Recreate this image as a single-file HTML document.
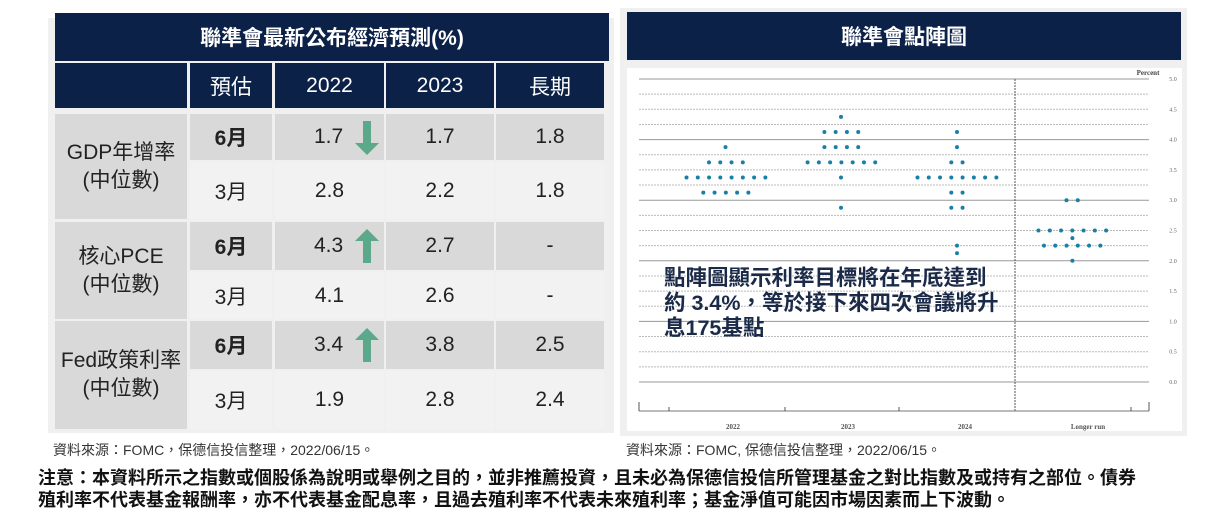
<!DOCTYPE html>
<html><head><meta charset="utf-8"><style>
body{margin:0;width:1227px;height:523px;background:#fff;position:relative;overflow:hidden;font-family:"Liberation Sans","Noto Sans CJK TC",sans-serif;}
.abs{position:absolute;}
.c{position:absolute;display:flex;align-items:center;justify-content:center;color:#222;font-size:21px;}
.nav{background:#0b2147;color:#fff;}
.d{background:#d9d9d9;}
.l{background:#f2f2f2;}
.arr{position:absolute;}
</style></head><body>
<div class="abs" style="left:48px;top:18px;width:566px;height:415px;background:#f0f0f0"></div>
<div class="c nav" style="left:55px;top:13px;width:554px;height:48px;font-size:21px;font-weight:bold">聯準會最新公布經濟預測(%)</div>
<div id="tbl"></div>
<div class="abs" style="left:620px;top:8px;width:567px;height:428px;background:#f0f0f0"></div>
<div class="c nav" style="left:627px;top:12px;width:554px;height:48px;font-size:21px;font-weight:bold">聯準會點陣圖</div>
<div class="abs" style="left:627px;top:68px;width:555px;height:363px;background:#fff"></div>
<svg class="abs" style="left:0;top:0" width="1227" height="523" id="sv"></svg>
<div class="abs" style="left:664px;top:266px;font-size:21.5px;line-height:25px;color:#1b2a48;font-weight:bold;white-space:nowrap">點陣圖顯示利率目標將在年底達到<br>約 3.4%，等於接下來四次會議將升<br>息175基點</div>
<div class="abs" style="left:53px;top:440px;font-size:14px;color:#333">資料來源：FOMC，保德信投信整理，2022/06/15。</div>
<div class="abs" style="left:626px;top:440px;font-size:14px;color:#333">資料來源：FOMC, 保德信投信整理，2022/06/15。</div>
<div class="abs" style="left:38px;top:467px;font-size:18px;line-height:22px;color:#111;font-weight:bold;width:1189px;white-space:nowrap">注意：本資料所示之指數或個股係為說明或舉例之目的，並非推薦投資，且未必為保德信投信所管理基金之對比指數及或持有之部位。債券<br>殖利率不代表基金報酬率，亦不代表基金配息率，且過去殖利率不代表未來殖利率；基金淨值可能因市場因素而上下波動。</div>
<script>
var cols=[[55,132],[190,82],[275,109],[386,108],[496,108]];
var h='';
var hdr=['','預估','2022','2023','長期'];
for(var i=0;i<5;i++)h+='<div class="c nav" style="left:'+cols[i][0]+'px;top:63px;width:'+cols[i][1]+'px;height:45px">'+hdr[i]+'</div>';
var rows=[[114,46],[162,57],[222,48],[272,47],[321,48],[371,58]];
var data=[['6月','1.7','1.7','1.8'],['3月','2.8','2.2','1.8'],['6月','4.3','2.7','-'],['3月','4.1','2.6','-'],['6月','3.4','3.8','2.5'],['3月','1.9','2.8','2.4']];
var lab=['GDP年增率<br>(中位數)','核心PCE<br>(中位數)','Fed政策利率<br>(中位數)'];
for(var g=0;g<3;g++){var r0=rows[g*2],r1=rows[g*2+1];
h+='<div class="c d" style="left:55px;top:'+r0[0]+'px;width:132px;height:'+(r1[0]+r1[1]-r0[0])+'px;text-align:center;line-height:28px">'+lab[g]+'</div>';}
for(var r=0;r<6;r++){var six=r%2==0;
for(var c=1;c<5;c++){var t=data[r][c-1];var st='';
if(c==1&&six)st='font-weight:bold;';
if(c==2&&six)st+='justify-content:flex-start;padding-left:39px;box-sizing:border-box;';
h+='<div class="c '+(six?'d':'l')+'" style="'+st+'left:'+cols[c][0]+'px;top:'+rows[r][0]+'px;width:'+cols[c][1]+'px;height:'+rows[r][1]+'px">'+t+'</div>';}}
document.getElementById('tbl').innerHTML=h;
function arrow(x,y,up){var s='<svg class="arr" style="left:'+x+'px;top:'+y+'px" width="24" height="34"><polygon fill="#5ba88b" points="'+(up?'12,0 24,12 16,12 16,34 8,34 8,12 0,12':'8,0 16,0 16,22 24,22 12,34 0,22 8,22')+'"/></svg>';document.body.insertAdjacentHTML('beforeend',s);}
arrow(355,121,false);arrow(355,229,true);arrow(355,328,true);
var s='';function Y(v){return 382-60.6*v;}
for(var k=0;k<=20;k++){var v=k*0.25,y=Y(v);var major=(k%2==0);
s+='<line x1="639" x2="1149" y1="'+y+'" y2="'+y+'" stroke="'+(k%4==0?'#999':'#bbb')+'" stroke-width="1" stroke-dasharray="'+(k%4==0?'none':'2 1')+'"/>';
if(major)s+='<text x="1173" y="'+(y+2)+'" font-size="6" fill="#666" text-anchor="middle" font-family="Liberation Serif,serif">'+v.toFixed(1)+'</text>';}
s+='<text x="1148" y="75" font-size="7" fill="#444" text-anchor="middle" font-weight="bold" font-family="Liberation Serif,serif">Percent</text>';
s+='<line x1="1015" x2="1015" y1="79" y2="411" stroke="#555" stroke-dasharray="2 1"/>';
s+='<line x1="639" x2="1149" y1="411" y2="411" stroke="#777"/>';
[[639,402],[669,407],[785,407],[899,407],[1131,407],[1149,402]].forEach(function(t){s+='<line x1="'+t[0]+'" x2="'+t[0]+'" y1="'+t[1]+'" y2="411" stroke="#555"/>';});
[['2022',733],['2023',848],['2024',965],['Longer run',1088]].forEach(function(t){s+='<text x="'+t[1]+'" y="429" font-size="7" fill="#555" text-anchor="middle" font-weight="bold" font-family="Liberation Serif,serif">'+t[0]+'</text>';});
var dx=11.27;
function row(v,x0,n){for(var i=0;i<n;i++)s+='<circle cx="'+(x0+i*dx)+'" cy="'+Y(v)+'" r="2" fill="#1a7fa8"/>';}
row(3.875,725.5,1);row(3.625,709,4);row(3.375,686.5,8);row(3.125,703.3,5);
row(4.375,841,1);row(4.125,824.4,4);row(3.875,824.4,4);row(3.625,807.6,7);row(3.375,841,1);row(2.875,841,1);
row(4.125,957,1);row(3.875,957,1);row(3.625,951.3,2);row(3.375,917.5,8);row(3.125,951.3,2);row(2.875,951.3,2);row(2.25,957,1);row(2.125,957,1);
row(3.0,1066.5,2);row(2.5,1038.5,7);row(2.375,1072.4,1);row(2.25,1044,6);row(2.0,1072.4,1);
document.getElementById('sv').innerHTML=s;
</script>
</body></html>
